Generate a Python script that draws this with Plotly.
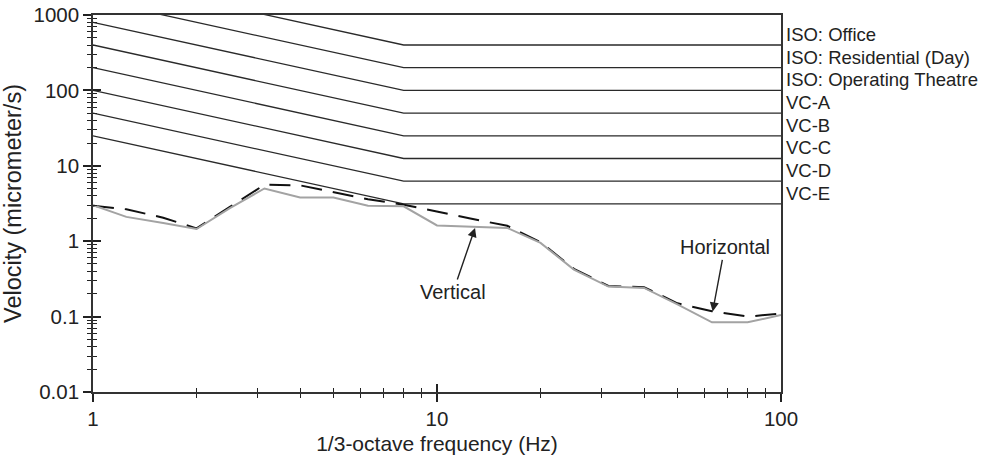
import numpy as np
import plotly.graph_objects as go

# 1/3-octave band centre frequencies (Hz)
freq = [1, 1.25, 1.6, 2, 2.5, 3.15, 4, 5, 6.3, 8, 10, 12.5, 16, 20, 25,
        31.5, 40, 50, 63, 80, 100]

# Measured RMS velocity spectra (micrometer/s)
vertical = [3.0, 2.1, 1.74, 1.45, 2.75, 5.0, 3.8, 3.8, 2.95, 2.9, 1.62, 1.56,
            1.5, 0.95, 0.42, 0.25, 0.24, 0.145, 0.084, 0.084, 0.105]
horizontal = [2.95, 2.65, 2.05, 1.48, 2.85, 5.6, 5.5, 4.45, 3.6, 3.05, 2.45,
              2.0, 1.6, 0.97, 0.43, 0.255, 0.245, 0.15, 0.118, 0.1, 0.11]

# Generic vibration criteria: value at 1 Hz, knee at 8 Hz, flat to 100 Hz
criteria_names = ["ISO: Office", "ISO: Residential (Day)", "ISO: Operating Theatre",
                  "VC-A", "VC-B", "VC-C", "VC-D", "VC-E"]
criteria_freq = [1, 8, 100]
criteria_at_1hz = [3200, 1600, 800, 400, 200, 100, 50, 25]
criteria_flat = [400, 200, 100, 50, 25, 12.5, 6.25, 3.125]

# Axis ticks
x_major = [1, 10, 100]
x_major_text = ["1", "10", "100"]
x_minor = [2, 3, 4, 5, 6, 7, 8, 9, 20, 30, 40, 50, 60, 70, 80, 90]
y_major = [0.01, 0.1, 1, 10, 100, 1000]
y_major_text = ["0.01", "0.1", "1", "10", "100", "1000"]
y_minor = [m * d for d in [0.01, 0.1, 1, 10, 100] for m in range(2, 10)]

FONT = "Liberation Sans, Arial, Helvetica, sans-serif"
INK = "#222222"

fig = go.Figure()

for name, v1, vf in zip(criteria_names, criteria_at_1hz, criteria_flat):
    fig.add_trace(go.Scatter(
        x=criteria_freq, y=[v1, vf, vf], mode="lines", name=name,
        line=dict(color="#2a2a2a", width=1.3), showlegend=False,
        hoverinfo="skip"))

fig.add_trace(go.Scatter(
    x=freq, y=horizontal, mode="lines", name="Horizontal",
    line=dict(color="#111111", width=2, dash="21px,11px"), showlegend=False))
fig.add_trace(go.Scatter(
    x=freq, y=vertical, mode="lines", name="Vertical",
    line=dict(color="#a3a3a3", width=2), showlegend=False))

# empty trace so the overlay axes (inner tick halves) are drawn
fig.add_trace(go.Scatter(x=[], y=[], xaxis="x2", yaxis="y2", showlegend=False))

annotations = []
for name, vf in zip(criteria_names, criteria_flat):
    annotations.append(dict(
        xref="paper", x=1, xanchor="left", xshift=3,
        yref="y", y=np.log10(vf), yanchor="bottom", yshift=-2,
        text=name, showarrow=False, font=dict(size=18.5, color=INK, family=FONT)))

annotations.append(dict(
    xref="x", yref="y", x=np.log10(12.9), y=np.log10(1.5),
    text="Vertical", showarrow=True, arrowhead=2, arrowsize=1.3, arrowwidth=1.4,
    arrowcolor=INK, ax=-22, ay=64, font=dict(size=20, color=INK, family=FONT)))
annotations.append(dict(
    xref="x", yref="y", x=np.log10(63.3), y=np.log10(0.117),
    text="Horizontal", showarrow=True, arrowhead=2, arrowsize=1.3, arrowwidth=1.4,
    arrowcolor=INK, ax=12, ay=-64, font=dict(size=20, color=INK, family=FONT)))

common_x = dict(type="log", range=[0, 2], showgrid=False, zeroline=False,
                automargin=False)
common_y = dict(type="log", range=[-2, 3], showgrid=False, zeroline=False,
                automargin=False)

fig.update_layout(
    width=988, height=462,
    margin=dict(l=93, r=207, t=15, b=70, autoexpand=False),
    paper_bgcolor="white", plot_bgcolor="white",
    font=dict(family=FONT, color=INK),
    xaxis=dict(**common_x,
               tickvals=x_major, ticktext=x_major_text,
               ticks="outside", ticklen=8, tickwidth=1.5, tickcolor=INK,
               minor=dict(tickvals=x_minor, ticks="outside", ticklen=4,
                          tickwidth=1.2, tickcolor=INK),
               showline=True, linecolor="#333333", linewidth=1.6, mirror=True,
               tickfont=dict(size=20.5, color=INK),
               title=dict(text="1/3-octave frequency (Hz)",
                          font=dict(size=21, color=INK), standoff=7)),
    yaxis=dict(**common_y,
               tickvals=y_major, ticktext=y_major_text,
               ticks="outside", ticklen=8, tickwidth=1.5, tickcolor=INK,
               minor=dict(tickvals=y_minor, ticks="outside", ticklen=4,
                          tickwidth=1.2, tickcolor=INK),
               showline=True, linecolor="#333333", linewidth=1.6, mirror=True,
               tickfont=dict(size=20.5, color=INK),
               title=dict(text="Velocity (micrometer/s)",
                          font=dict(size=23.5, color=INK), standoff=5)),
    xaxis2=dict(**common_x, overlaying="x", anchor="y2", side="bottom",
                tickvals=x_major, ticks="inside", ticklen=8, tickwidth=1.5,
                tickcolor=INK, showticklabels=False, showline=False,
                minor=dict(tickvals=x_minor, ticks="inside", ticklen=4,
                           tickwidth=1.2, tickcolor=INK)),
    yaxis2=dict(**common_y, overlaying="y", anchor="x2", side="left",
                tickvals=y_major, ticks="inside", ticklen=8, tickwidth=1.5,
                tickcolor=INK, showticklabels=False, showline=False,
                minor=dict(tickvals=y_minor, ticks="inside", ticklen=4,
                           tickwidth=1.2, tickcolor=INK)),
    annotations=annotations,
    showlegend=False,
)

fig.write_html("out.html")
